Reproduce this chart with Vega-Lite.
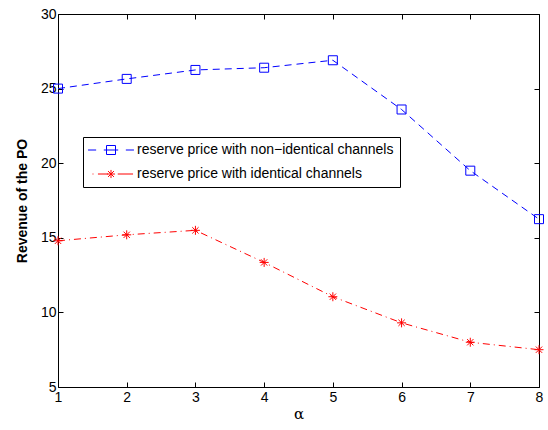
{
  "$schema": "https://vega.github.io/schema/vega-lite/v6.json",
  "autosize": "none",
  "width": 481,
  "height": 373,
  "padding": {"left": 58, "top": 14, "right": 9, "bottom": 43},
  "background": "white",
  "config": {
    "view": {"stroke": null},
    "font": "Liberation Sans",
    "axis": {
      "grid": false,
      "domainColor": "black",
      "domainWidth": 1,
      "tickColor": "black",
      "tickSize": -5,
      "labelColor": "black",
      "labelFont": "Liberation Sans",
      "labelFontSize": 14,
      "titleColor": "black",
      "titleFont": "Liberation Sans"
    },
    "legend": {
      "orient": "none",
      "legendX": 25,
      "legendY": 123,
      "direction": "vertical",
      "strokeColor": "black",
      "fillColor": "white",
      "padding": 6,
      "rowPadding": 10,
      "labelFont": "Liberation Sans",
      "labelFontSize": 14,
      "labelColor": "black",
      "labelLimit": 400,
      "symbolSize": 81,
      "symbolOffset": 15,
      "labelOffset": 19,
      "symbolStrokeWidth": 1,
      "symbolDash": []
    }
  },
  "data": {
    "values": [
      {"alpha": 1, "revenue": 25.0, "series": "reserve price with non\u2212identical channels"},
      {"alpha": 2, "revenue": 25.65, "series": "reserve price with non\u2212identical channels"},
      {"alpha": 3, "revenue": 26.25, "series": "reserve price with non\u2212identical channels"},
      {"alpha": 4, "revenue": 26.4, "series": "reserve price with non\u2212identical channels"},
      {"alpha": 5, "revenue": 26.9, "series": "reserve price with non\u2212identical channels"},
      {"alpha": 6, "revenue": 23.6, "series": "reserve price with non\u2212identical channels"},
      {"alpha": 7, "revenue": 19.5, "series": "reserve price with non\u2212identical channels"},
      {"alpha": 8, "revenue": 16.25, "series": "reserve price with non\u2212identical channels"},
      {"alpha": 1, "revenue": 14.8, "series": "reserve price with identical channels"},
      {"alpha": 2, "revenue": 15.2, "series": "reserve price with identical channels"},
      {"alpha": 3, "revenue": 15.5, "series": "reserve price with identical channels"},
      {"alpha": 4, "revenue": 13.35, "series": "reserve price with identical channels"},
      {"alpha": 5, "revenue": 11.05, "series": "reserve price with identical channels"},
      {"alpha": 6, "revenue": 9.3, "series": "reserve price with identical channels"},
      {"alpha": 7, "revenue": 8.0, "series": "reserve price with identical channels"},
      {"alpha": 8, "revenue": 7.5, "series": "reserve price with identical channels"}
    ]
  },
  "resolve": {"axis": {"x": "independent", "y": "independent"}, "scale": {"shape": "independent", "color": "independent"}},
  "layer": [
    {
      "mark": {"type": "line", "strokeWidth": 1},
      "encoding": {
        "x": {"field": "alpha", "type": "quantitative", "scale": {"domain": [1, 8], "nice": false},
          "axis": {"orient": "bottom", "values": [1,2,3,4,5,6,7,8], "labelPadding": 8, "title": "α", "titleFontSize": 15, "titleFontWeight": "normal", "titleFont": "DejaVu Serif", "titlePadding": 2, "labelFlush": false}},
        "y": {"field": "revenue", "type": "quantitative", "scale": {"domain": [5, 30], "nice": false},
          "axis": {"orient": "left", "values": [5,10,15,20,25,30], "labelPadding": 7, "title": "Revenue of the PO", "titleFontSize": 14, "titleFontWeight": "bold", "titlePadding": 11, "labelFlush": false}},
        "color": {
          "field": "series", "type": "nominal", "legend": null,
          "scale": {"domain": ["reserve price with non\u2212identical channels", "reserve price with identical channels"], "range": ["#0000ff", "#ff0000"]}
        },
        "strokeDash": {
          "field": "series", "type": "nominal",
          "scale": {"domain": ["reserve price with non\u2212identical channels", "reserve price with identical channels"], "range": [[7, 5], [7, 4, 1, 4]]},
          "legend": null
        }
      }
    },
    {
      "mark": {"type": "point", "filled": false, "strokeWidth": 1, "opacity": 1},
      "encoding": {
        "x": {"field": "alpha", "type": "quantitative", "scale": {"domain": [1, 8], "nice": false},
          "axis": {"orient": "top", "values": [1,2,3,4,5,6,7,8], "labels": false, "title": null}},
        "y": {"field": "revenue", "type": "quantitative", "scale": {"domain": [5, 30], "nice": false},
          "axis": {"orient": "right", "values": [5,10,15,20,25,30], "labels": false, "title": null}},
        "color": {
          "field": "series", "type": "nominal", "legend": null,
          "scale": {"domain": ["reserve price with non\u2212identical channels", "reserve price with identical channels"], "range": ["#0000ff", "#ff0000"]}
        },
        "shape": {
          "field": "series", "type": "nominal",
          "scale": {"domain": ["reserve price with non\u2212identical channels", "reserve price with identical channels"], "range": ["square", "M0,-1V1M-1,0H1M-0.7,-0.7L0.7,0.7M-0.7,0.7L0.7,-0.7"]},
          "legend": null
        },
        "size": {"value": 81}
      }
    },
    {
      "transform": [{"filter": "false"}],
      "mark": {"type": "point", "filled": false, "strokeWidth": 1, "opacity": 1},
      "encoding": {
        "x": {"field": "alpha", "type": "quantitative", "axis": null},
        "y": {"field": "revenue", "type": "quantitative", "axis": null},
        "color": {
          "field": "series", "type": "nominal", "title": null,
          "scale": {"domain": ["reserve price with non\u2212identical channels", "reserve price with identical channels"], "range": ["#0000ff", "#ff0000"]}
        },
        "shape": {
          "field": "series", "type": "nominal", "title": null,
          "scale": {"domain": ["reserve price with non\u2212identical channels", "reserve price with identical channels"], "range": ["M-5.1,0H-3.3M-1.6,0H1.6M-1,-1H1V1H-1ZM3.3,0H5.1", "M-4.1,0H-3.9M-2.9,0H-0.7M0,-0.9V0.9M-0.9,0H0.9M-0.65,-0.65L0.65,0.65M-0.65,0.65L0.65,-0.65M1.5,0H4.9"]}
        }
      }
    }
  ]
}
